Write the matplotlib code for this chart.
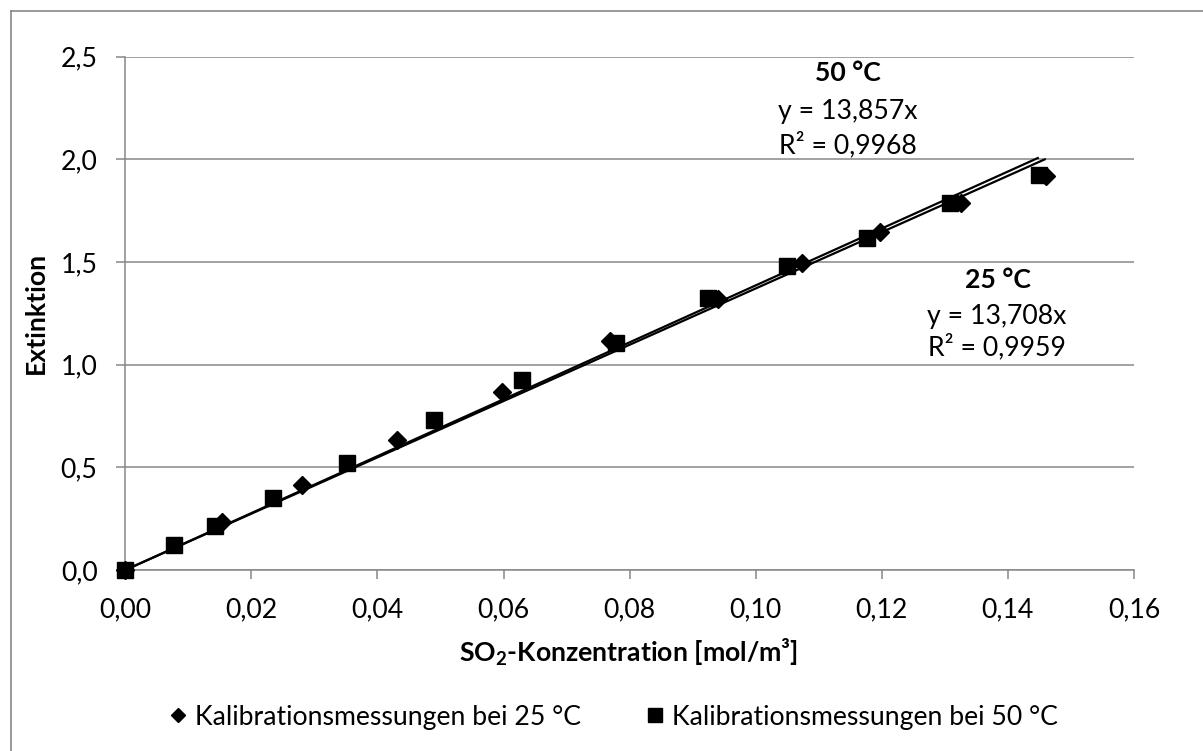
import matplotlib
matplotlib.use("Agg")
import matplotlib.pyplot as plt
from matplotlib.lines import Line2D
from matplotlib.ticker import FuncFormatter, MultipleLocator
import numpy as np

plt.rcParams['font.family'] = ['Lato', 'DejaVu Sans']
plt.rcParams['mathtext.fontset'] = 'custom'
plt.rcParams['mathtext.rm'] = 'Lato:bold'
plt.rcParams['mathtext.bf'] = 'Lato:bold'

# Data
x25 = [0.0, 0.0153, 0.0280, 0.0431, 0.0597, 0.0769, 0.0940, 0.1074, 0.1197, 0.1325, 0.1460]
y25 = [0.0, 0.235, 0.414, 0.634, 0.869, 1.115, 1.320, 1.495, 1.644, 1.787, 1.920]
x50 = [0.0, 0.0077, 0.0142, 0.0235, 0.0351, 0.0489, 0.0630, 0.0778, 0.0925, 0.1050, 0.1177, 0.1308, 0.1449]
y50 = [0.0, 0.122, 0.216, 0.349, 0.520, 0.728, 0.926, 1.105, 1.324, 1.480, 1.616, 1.787, 1.925]
slope25 = 13.708
slope50 = 13.857
r2_25 = 0.9959
r2_50 = 0.9968
label25 = "Kalibrationsmessungen bei 25 °C"
label50 = "Kalibrationsmessungen bei 50 °C"
xlabel = r"SO$_{\mathrm{2}}$-Konzentration [mol/m³]"
ylabel = "Extinktion"

FS = 19.2
W, H = 1203, 751
fig = plt.figure(figsize=(W / 100, H / 100), dpi=100)
ax = fig.add_axes([125.3 / W, 1 - 570 / H, (1134 - 125.3) / W, (570 - 56.5) / H])

def px(xp, yp):
    return (xp / W, 1 - yp / H)

grey = '#878787'
# trend lines
xl25 = np.array([0, max(x25)])
xl50 = np.array([0, max(x50)])
ax.plot(xl25, slope25 * xl25, color='black', lw=1.6, zorder=3, solid_capstyle='butt')
ax.plot(xl50, slope50 * xl50, color='black', lw=1.6, zorder=3, solid_capstyle='butt')

ax.plot(x25, y25, ls='none', marker='D', ms=9.5, mew=1, color='black', zorder=4,
        clip_on=False)
ax.plot(x50, y50, ls='none', marker='s', ms=12, mew=1, color='black', zorder=5,
        clip_on=False)

ax.set_xlim(0, 0.16)
ax.set_ylim(0, 2.5)
ax.xaxis.set_major_locator(MultipleLocator(0.02))
ax.yaxis.set_major_locator(MultipleLocator(0.5))
ax.xaxis.set_major_formatter(FuncFormatter(lambda v, p: f"{v:.2f}".replace('.', ',')))
ax.yaxis.set_major_formatter(FuncFormatter(lambda v, p: f"{v:.1f}".replace('.', ',')))

ax.grid(axis='y', color=grey, lw=1.1)
ax.set_axisbelow(True)
for s in ['top', 'right']:
    ax.spines[s].set_visible(False)
for s in ['left', 'bottom']:
    ax.spines[s].set_color(grey)
    ax.spines[s].set_linewidth(1.1)
ax.tick_params(axis='both', direction='out', color=grey, width=1.1, length=6.5,
               labelsize=FS, labelcolor='black')
ax.tick_params(axis='y', pad=13.5)
ax.tick_params(axis='x', pad=13)

fig.text(*px(628.5, 652), xlabel, fontsize=FS, fontweight='bold', ha='center', va='center')
fig.text(*px(36, 313), ylabel, fontsize=FS, fontweight='bold', ha='center', va='center',
         rotation=90)

# annotations
fig.text(*px(848, 73), "50 °C", fontsize=FS, fontweight='bold', ha='center', va='center')
fig.text(*px(848, 112), f"y = {slope50:.3f}x".replace('.', ','), fontsize=FS, ha='center', va='center')
fig.text(*px(848, 145), f"R² = {r2_50:.4f}".replace('.', ','), fontsize=FS, ha='center', va='center')
fig.text(*px(998, 280), "25 °C", fontsize=FS, fontweight='bold', ha='center', va='center')
fig.text(*px(997, 317), f"y = {slope25:.3f}x".replace('.', ','), fontsize=FS, ha='center', va='center')
fig.text(*px(997, 347), f"R² = {r2_25:.4f}".replace('.', ','), fontsize=FS, ha='center', va='center')

# legend
em = FS * 100 / 72
h1 = Line2D([], [], ls='none', marker='D', ms=7.6, color='black')
h2 = Line2D([], [], ls='none', marker='s', ms=9.8, color='black')
fig.legend([h1, h2], [label25, label50], loc='center left', bbox_to_anchor=px(170, 717),
           ncol=2, frameon=False, fontsize=FS, handlelength=16 / em,
           handletextpad=(195 - 186) / em, columnspacing=66 / em,
           borderpad=0, borderaxespad=0)

# outer border (left and top visible)
fig.add_artist(Line2D([10.5 / W, 10.5 / W], [0, 1 - 10.5 / H], color=grey, lw=1.2))
fig.add_artist(Line2D([10.5 / W, 1], [1 - 10.5 / H, 1 - 10.5 / H], color=grey, lw=1.2))

fig.savefig("out.png", dpi=100)
